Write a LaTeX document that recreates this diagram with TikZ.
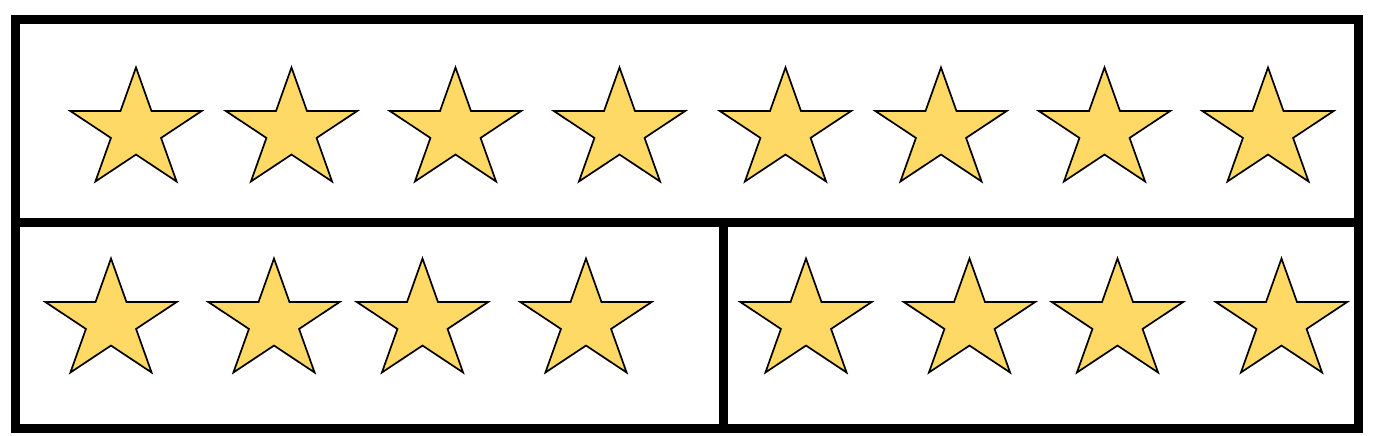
\documentclass[tikz,border=0pt]{standalone}
\usetikzlibrary{positioning}
\definecolor{stargold}{HTML}{FFD966}
\tikzset{
  frameline/.style={line width=9pt, draw=black, line cap=rect, line join=miter},
  starline/.style={draw=black, fill=stargold, line width=1.7pt, line join=miter},
  starpic/.pic={
    \path[starline, xscale=69, yscale=63]
      (0,-1) -- (0.2245,-0.309) -- (0.951,-0.309) -- (0.3633,0.118) -- (0.588,0.809)
      -- (0,0.382) -- (-0.588,0.809) -- (-0.3633,0.118) -- (-0.951,-0.309)
      -- (-0.2245,-0.309) -- cycle;
  }
}
\begin{document}
\begin{tikzpicture}[x=1pt, y=-1pt]
  \useasboundingbox[fill=white] (0,0) rectangle (1378,436);
  % frames
  \coordinate (tl) at (15.5,19.5);
  \coordinate (br) at (1358,428);
  \coordinate (ml) at (15.5,222);
  \coordinate (mr) at (1358,222);
  \coordinate (vt) at (723.5,222);
  \coordinate (vb) at (723.5,428);
  \draw[frameline] (tl) rectangle (br);
  \draw[frameline] (ml) -- (mr);
  \draw[frameline] (vt) -- (vb);
  % top row
  \foreach \x [count=\i] in {136,291.5,455.5,619.5,785.5,941,1104.5,1268}
    \pic (top\i) at (\x,130.5) {starpic};
  % bottom row
  \foreach \x [count=\i] in {111,274,422.5,586,806,969.5,1117.5,1281.5}
    \pic (bot\i) at (\x,321.5) {starpic};
\end{tikzpicture}
\end{document}
